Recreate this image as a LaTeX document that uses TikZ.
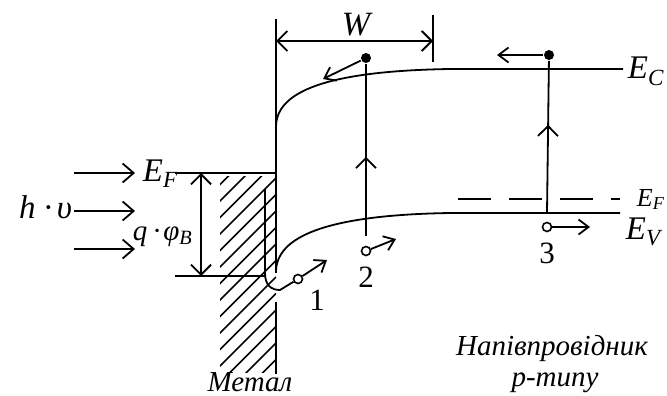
\documentclass[tikz,border=0pt]{standalone}
\usepackage{fontspec}
\setmainfont{Liberation Serif}
\usetikzlibrary{arrows.meta,decorations.markings}
\tikzset{
  band/.style={line width=1.8pt},
  hatchln/.style={line width=1.5pt},
  barb/.style={-{Straight Barb[length=11pt,width=19pt]},line width=1.8pt},
  dimln/.style={{Straight Barb[length=10pt,width=20pt]}-{Straight Barb[length=10pt,width=20pt]},line width=1.8pt},
  move/.style={-{Straight Barb[length=10pt,width=15pt]},line width=1.8pt},
  upmark/.style={postaction={decorate},decoration={markings,
                 mark=at position #1 with {\arrow{Straight Barb[length=10pt,width=20pt]}}}},
  elec/.style={circle,fill=black,inner sep=0pt,minimum size=10pt},
  hole/.style={circle,draw=black,fill=white,line width=1.6pt,inner sep=0pt,minimum size=9pt},
  lbl/.style={font=\fontsize{33}{34}\selectfont\itshape,inner sep=0pt},
  slbl/.style={font=\fontsize{26}{27}\selectfont\itshape,inner sep=0pt},
  num/.style={font=\fontsize{31}{32}\selectfont,inner sep=0pt},
  captxt/.style={font=\fontsize{29}{30}\selectfont\itshape,inner sep=0pt},
}
\begin{document}
\begin{tikzpicture}[x=1pt,y=-1pt,line width=1.8pt]
  \useasboundingbox (0,0) rectangle (667,396);

  % metal: hatching
  \begin{scope}
    \clip (220,176) rectangle (276,372);
    \foreach \k in {-4,...,12}
      \draw[hatchln] (276,{178+16.5*\k}) -- ++(-60,60);
  \end{scope}

  % interface and W
  \coordinate (ifTop) at (276,19);
  \coordinate (ifMid) at (276,273);
  \coordinate (ifLow) at (276,302);
  \coordinate (ifBot) at (276,374);
  \draw (ifTop) -- (ifMid);
  \draw (ifLow) -- (ifBot);
  \coordinate (wTop) at (433,15);
  \coordinate (wBot) at (433,62);
  \draw (wTop) -- (wBot);
  \coordinate (wa) at (276,41);
  \coordinate (wb) at (433,41);
  \draw[dimln] (wa) -- (wb);
  \node[lbl,font=\fontsize{34}{34}\selectfont\itshape,anchor=base] (wlab) at (356,36) {W};

  % bands
  \coordinate (cb0) at (276,127);
  \coordinate (cb1) at (450,69);
  \coordinate (cb2) at (623,69);
  \draw[band] (cb0) .. controls (276,92) and (325,71) .. (cb1) -- (cb2);
  \coordinate (vb0) at (276,272);
  \coordinate (vb1) at (450,213);
  \coordinate (vb2) at (620,213);
  \draw[band] (vb0) .. controls (276,237) and (325,215) .. (vb1) -- (vb2);
  \coordinate (efs0) at (458,199);
  \coordinate (efs1) at (620,199);
  \draw[dash pattern=on 33pt off 18pt] (efs0) -- (efs1);

  % metal levels
  \coordinate (efm0) at (175,173);
  \coordinate (efm1) at (276,173);
  \draw (efm0) -- (efm1);
  \coordinate (bb0) at (175,276);
  \coordinate (bb1) at (265,276);
  \draw (bb0) -- (bb1);
  \coordinate (qa) at (201,173);
  \coordinate (qb) at (201,276);
  \draw[dimln] (qa) -- (qb);

  % photons
  \foreach \y/\nm in {173/pa,211/pb,249/pc}{
    \coordinate (\nm0) at (74,\y);
    \coordinate (\nm1) at (135,\y);
    \draw[barb] (\nm0) -- (\nm1);
  }

  % carriers
  \node[elec] (e2) at (366,58) {};
  \node[elec] (e3) at (549,55) {};
  \node[hole] (h1) at (298,279) {};
  \node[hole] (h2) at (366,251) {};
  \node[hole] (h3) at (547,227) {};
  \coordinate (in0) at (265,189);
  \coordinate (in1) at (265,273);
  \draw (in0) -- (in1) .. controls (265,285) and (271,290) .. (280,290) -- (h1);
  \coordinate (t2) at (366,236);
  \coordinate (t3) at (547,213);
  \draw[upmark=0.46] (t2) -- (e2);
  \draw[upmark=0.58] (t3) -- (e3);
  \coordinate (m1) at (327,260);
  \coordinate (m2) at (396,239);
  \coordinate (m3) at (590,227);
  \coordinate (n2) at (323,79);
  \coordinate (n3) at (497,55);
  \draw[move] (h1) -- (m1);
  \draw[move] (h2) -- (m2);
  \draw[move] (h3) -- (m3);
  \draw[move] (e2) -- (n2);
  \draw[move] (e3) -- (n3);

  % labels
  \node[lbl,anchor=base west] (ecl) at (627,79) {E\textsubscript{C}};
  \node[lbl,anchor=base west] (evl) at (625,239) {E\textsubscript{V}};
  \node[slbl,anchor=base west] (efr) at (636,206) {E\textsubscript{F}};
  \node[lbl,anchor=base west] (efl) at (142,181) {E\textsubscript{F}};
  \node[lbl,anchor=base east] (hv) at (73,218) {h\hspace{0.25em}·\hspace{0.15em}υ};
  \node[slbl,font=\fontsize{29}{30}\selectfont\itshape,anchor=base west] (qphi) at (132,240) {q\hspace{0.2em}·\hspace{0.1em}φ\textsubscript{B}};
  \node[num,anchor=base] (n1l) at (317,310) {1};
  \node[num,anchor=base] (n2l) at (366,287) {2};
  \node[num,anchor=base] (n3l) at (547,263) {3};
  \node[captxt,anchor=base] (metal) at (250,391) {Метал};
  \node[captxt,anchor=base] (semi) at (552,355) {Напівпровідник};
  \node[captxt,anchor=base] (ptype) at (555,386) {p-типу};
\end{tikzpicture}
\end{document}
